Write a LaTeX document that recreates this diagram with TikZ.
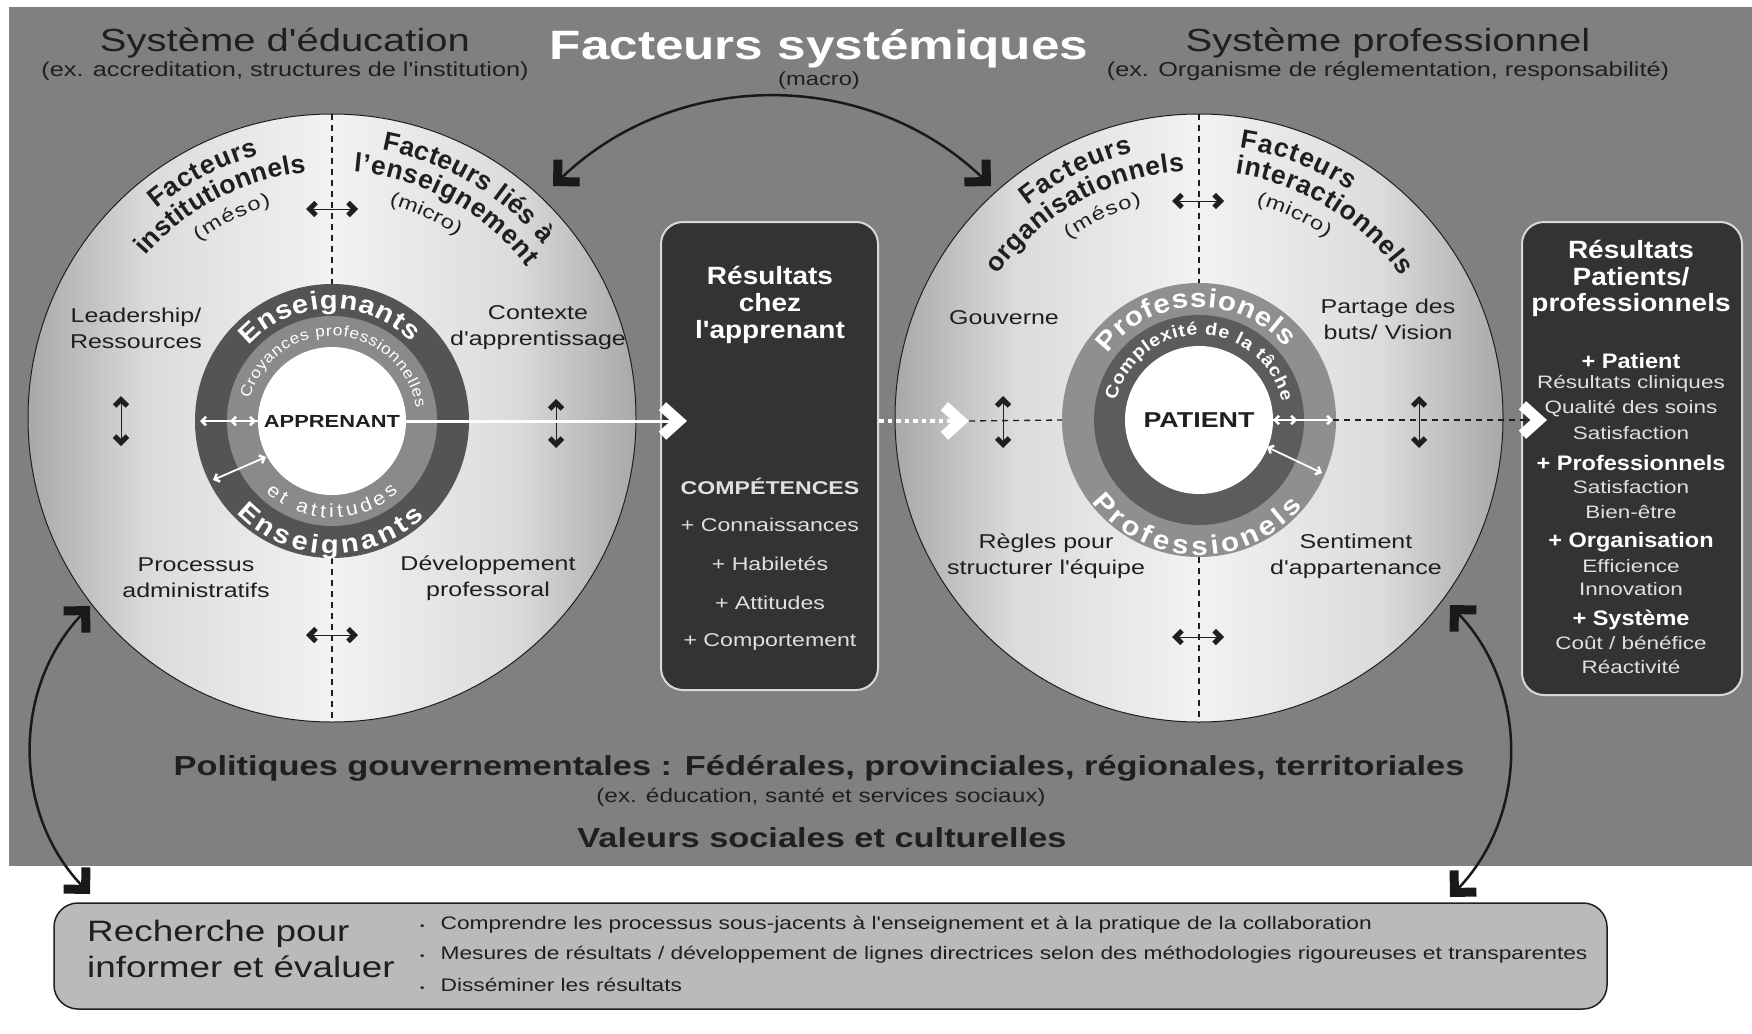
\documentclass[tikz,border=0pt]{standalone}
\usepackage{fontspec}
\setmainfont{Liberation Sans}
\newfontfamily\wsf[FakeStretch=1.25]{Liberation Sans}
\newfontfamily\msf[FakeStretch=1.12]{Liberation Sans}
\usetikzlibrary{arrows.meta,decorations.text}
\newcommand\fz[2]{\fontsize{#1}{#2}\selectfont}
\definecolor{bg}{gray}{0.50}
\definecolor{discA}{gray}{0.95}
\definecolor{discM}{gray}{0.86}
\definecolor{discB}{gray}{0.66}
\definecolor{ringD}{gray}{0.33}
\definecolor{ringM}{gray}{0.54}
\definecolor{ringL}{gray}{0.56}
\definecolor{ringK}{gray}{0.36}
\definecolor{boxD}{gray}{0.20}
\definecolor{boxE}{gray}{0.85}
\definecolor{resB}{gray}{0.73}
\definecolor{ink}{gray}{0.12}
\definecolor{soft}{gray}{0.88}
\pgfdeclarehorizontalshading{hband}{100bp}{color(0bp)=(discB); color(25bp)=(discB); color(35bp)=(discM); color(50bp)=(discA); color(65bp)=(discM); color(75bp)=(discB); color(100bp)=(discB)}
\tikzset{
  bigL/.tip={Straight Barb[angle=90:22pt,line width=9pt,sharp]},
  kbarb/.tip={Straight Barb[angle=90:9pt,line width=5pt,sharp]},
  wbarb/.tip={Straight Barb[angle=90:6pt,line width=2.5pt,color=white]},
  wchev/.tip={Straight Barb[angle=84:22pt,line width=11pt,sharp,color=white]},
  loopar/.style={draw=black!90,line width=2.5pt,bigL-bigL},
  dblk/.style={draw=ink,line width=0.9pt,kbarb-kbarb},
  warr/.style={draw=white,line width=1.8pt},
  dsh/.style={draw=ink,line width=1.3pt,dash pattern=on 6pt off 5pt},
  disc/.style={circle,draw=ink,line width=1pt,shading=hband,minimum size=608pt,inner sep=0pt},
  ring/.style={circle,inner sep=0pt},
  resbox/.style={draw=boxE,line width=2pt,fill=boxD,rounded corners=22pt,inner sep=0pt},
  lbl/.style={font=\wsf\fz{20}{26},text=ink,align=center,inner sep=0pt},
  btt/.style={font=\msf\bfseries\fz{25}{25},text=white,inner sep=0pt},
  bhd/.style={font=\msf\bfseries\fz{21}{21},text=white,inner sep=0pt},
  bit/.style={font=\wsf\fz{18}{18},text=soft,inner sep=0pt},
  mit/.style={font=\wsf\fz{18.5}{18.5},text=soft,inner sep=0pt},
  bul/.style={anchor=west,font=\wsf\fz{18.2}{18.2},text=ink,inner sep=0pt},
}
\newcommand\arcfit[7]{\path[decorate,decoration={text along path,text={|#5|#7},text align={fit to path},text color=#6}] (#1) ++(#2:#4) arc[start angle=#2,end angle=#3,radius=#4];}
\newcommand\bdot{{\fz{10}{10}\textbullet}\hspace{16pt}}
\begin{document}
\begin{tikzpicture}[x=1pt,y=1pt]
\useasboundingbox (0,0) rectangle (1752,-1033);
\fill[white] (0,0) rectangle (1752,-1033);
\fill[bg] (9,-7) rectangle (1752,-866);

% titles
\node[font=\wsf\fz{32}{32},text=ink] (sysedu) at (285,-43) {Système d'éducation};
\node[font=\wsf\fz{20.2}{20.2},text=ink] (sysedux) at (285,-71) {(ex. accreditation, structures de l'institution)};
\node[font=\wsf\fz{32}{32},text=ink] (syspro) at (1388,-43) {Système professionnel};
\node[font=\wsf\fz{20.2}{20.2},text=ink] (sysprox) at (1388,-71) {(ex. Organisme de réglementation, responsabilité)};
\node[font=\wsf\bfseries\fz{41}{41},text=white] (title) at (819,-49) {Facteurs systémiques};
\node[font=\wsf\fz{19}{19},text=ink] (macro) at (819,-81) {(macro)};

% circles
\node[disc] (LC) at (332,-418) {};
\node[disc] (RC) at (1199,-418) {};
\node[ring,fill=ringD,minimum size=274pt] (Lr1) at (332,-421) {};
\node[ring,fill=ringM,minimum size=210pt] (Lr2) at (332,-421) {};
\node[ring,fill=white,minimum size=148pt,font=\wsf\bfseries\fz{17.5}{17.5},text=ink] (app) at (332,-421) {APPRENANT};
\node[ring,fill=ringL,minimum size=274pt] (Rr1) at (1199,-420) {};
\node[ring,fill=ringK,minimum size=210pt] (Rr2) at (1199,-420) {};
\node[ring,fill=white,minimum size=148pt,font=\wsf\bfseries\fz{21.5}{21.5},text=ink] (pat) at (1199,-420) {PATIENT};

\draw[dsh] (LC.north) -- (Lr1.north);
\draw[dsh] (Lr1.south) -- (LC.south);
\draw[dsh] (RC.north) -- (Rr1.north);
\draw[dsh] (Rr1.south) -- (RC.south);

% curved labels, left circle
\arcfit{LC}{130}{105.6}{273}{\bfseries\fz{26.5}{26.5}}{ink}{Facteurs}
\arcfit{LC}{139}{96}{247}{\bfseries\fz{26.5}{26.5}}{ink}{institutionnels}
\arcfit{LC}{127}{106}{221}{\wsf\fz{19}{19}}{ink}{(méso)}
\arcfit{LC}{79.5}{39.5}{273}{\bfseries\fz{26.5}{26.5}}{ink}{Facteurs liés à}
\arcfit{LC}{85}{37.7}{247}{\bfseries\fz{26.5}{26.5}}{ink}{l'enseignement}
\arcfit{LC}{75}{55.5}{221}{\wsf\fz{19}{19}}{ink}{(micro)}
% curved labels, right circle
\arcfit{RC}{129}{104}{273}{\bfseries\fz{26.5}{26.5}}{ink}{Facteurs}
\arcfit{RC}{144.6}{93.4}{247}{\bfseries\fz{26.5}{26.5}}{ink}{organisationnels}
\arcfit{RC}{126}{105}{221}{\wsf\fz{19}{19}}{ink}{(méso)}
\arcfit{RC}{81.5}{56.4}{273}{\bfseries\fz{26.5}{26.5}}{ink}{Facteurs}
\arcfit{RC}{81.6}{35}{247}{\bfseries\fz{26.5}{26.5}}{ink}{interactionnels}
\arcfit{RC}{75}{54.7}{221}{\wsf\fz{19}{19}}{ink}{(micro)}
% ring texts
\arcfit{Lr1}{138}{45}{112}{\msf\bfseries\fz{26}{26}}{white}{Enseignants}
\arcfit{Lr1}{165}{9}{85}{\msf\fz{15.5}{15.5}}{white}{Croyances professionnelles}
\arcfit{Lr1}{227}{313}{97}{\msf\fz{19}{19}}{white}{et attitudes}
\arcfit{Lr1}{224}{314}{133}{\msf\bfseries\fz{26}{26}}{white}{Enseignants}
\arcfit{Rr1}{144}{40}{113}{\msf\bfseries\fz{26.5}{26.5}}{white}{Professionels}
\arcfit{Rr1}{167}{12.5}{85}{\msf\bfseries\fz{17.5}{17.5}}{white}{Complexité de la tâche}
\arcfit{Rr1}{217.6}{320}{135}{\msf\bfseries\fz{26.5}{26.5}}{white}{Professionels}

% circle labels
\node[lbl] (lead) at (136,-328) {Leadership/\\Ressources};
\node[lbl] (ctx) at (538,-328) {Contexte\\d'apprentissage};
\node[lbl] (proc) at (196,-578) {Processus\\administratifs};
\node[lbl] (dev) at (488,-578) {Développement\\professoral};
\node[lbl] (gouv) at (1004,-318) {Gouverne};
\node[lbl] (part) at (1388,-319) {Partage des\\buts/ Vision};
\node[lbl] (regl) at (1046,-556) {Règles pour\\structurer l'équipe};
\node[lbl] (sent) at (1356,-556) {Sentiment\\d'appartenance};

% black double arrows
\draw[dblk] ([shift={(-26,209)}]LC.center) -- ([shift={(26,209)}]LC.center);
\draw[dblk] ([shift={(-26,-217)}]LC.center) -- ([shift={(26,-217)}]LC.center);
\draw[dblk] ([shift={(-211,22)}]LC.center) -- ([shift={(-211,-28)}]LC.center);
\draw[dblk] ([shift={(224,19)}]LC.center) -- ([shift={(224,-30)}]LC.center);
\draw[dblk] ([shift={(-27,217)}]RC.center) -- ([shift={(25,217)}]RC.center);
\draw[dblk] ([shift={(-27,-219)}]RC.center) -- ([shift={(25,-219)}]RC.center);
\draw[dblk] ([shift={(-196,22)}]RC.center) -- ([shift={(-196,-30)}]RC.center);
\draw[dblk] ([shift={(220,22)}]RC.center) -- ([shift={(220,-30)}]RC.center);

% result boxes
\node[resbox,minimum width=217pt,minimum height=468pt] (midbox) at (769.5,-456) {};
\node[resbox,minimum width=220pt,minimum height=473pt] (rbox) at (1632,-458.5) {};
\node[btt] (m1) at (770,-275) {Résultats};
\node[btt] (m2) at (770,-303) {chez};
\node[btt] (m3) at (770,-332) {l'apprenant};
\node[font=\wsf\bfseries\fz{18.5}{18.5},text=soft,inner sep=0pt] (m4) at (770,-486) {COMPÉTENCES};
\node[mit] (m5) at (770,-525) {+ Connaissances};
\node[mit] (m6) at (770,-564) {+ Habiletés};
\node[mit] (m7) at (770,-603) {+ Attitudes};
\node[mit] (m8) at (770,-642) {+ Comportement};

\node[btt] (r1) at (1631,-249) {Résultats};
\node[btt] (r2) at (1631,-277) {Patients/};
\node[btt] (r3) at (1631,-305) {professionnels};
\node[bhd] (r4) at (1631,-361) {+ Patient};
\node[bit] (r5) at (1631,-384) {Résultats cliniques};
\node[bit] (r6) at (1631,-409) {Qualité des soins};
\node[bit] (r7) at (1631,-433) {Satisfaction};
\node[bhd] (r8) at (1631,-463) {+ Professionnels};
\node[bit] (r9) at (1631,-487) {Satisfaction};
\node[bit] (r10) at (1631,-512) {Bien-être};
\node[bhd] (r11) at (1631,-542) {+ Organisation};
\node[bit] (r12) at (1631,-566) {Efficience};
\node[bit] (r13) at (1631,-589) {Innovation};
\node[bhd] (r14) at (1631,-620) {+ Système};
\node[bit] (r15) at (1631,-643) {Coût / bénéfice};
\node[bit] (r16) at (1631,-667) {Réactivité};

% main flow
\coordinate (chevA) at (687,-421);
\coordinate (chevB) at (969,-421);
\coordinate (pwe) at (1333,-420);
\coordinate (chevC) at (1547,-420);
\draw[white,line width=3pt,-wchev] (app.east) -- (chevA);
\draw[white,line width=4.5pt,dash pattern=on 4.5pt off 4pt,-wchev] (midbox.east |- app.east) -- (chevB);
\draw[dsh] (chevB) -- (Rr1.west);
\draw[warr,-wbarb] (pat.east) -- (pwe);
\draw[dsh,-wchev] (pwe) -- (chevC);

% small white arrows
\draw[warr,-wbarb] (app.west) -- ([shift={(-132,0)}]app.center);
\draw[warr,wbarb-wbarb] ([shift={(-102,0)}]app.center) -- ([shift={(-76,0)}]app.center);
\draw[warr,wbarb-wbarb] ([shift={(-119,-59)}]app.center) -- ([shift={(-66,-36)}]app.center);
\draw[warr,wbarb-wbarb] ([shift={(74,0)}]pat.center) -- ([shift={(98,0)}]pat.center);
\draw[warr,wbarb-wbarb] ([shift={(68,-27)}]pat.center) -- ([shift={(123,-53)}]pat.center);

% bottom texts
\node[font=\wsf\bfseries\fz{27.5}{27.5},text=ink] (pol) at (819,-768) {Politiques gouvernementales : Fédérales, provinciales, régionales, territoriales};
\node[font=\wsf\fz{19.5}{19.5},text=ink] (polx) at (821,-797) {(ex. éducation, santé et services sociaux)};
\node[font=\wsf\bfseries\fz{27.5}{27.5},text=ink] (val) at (822,-838) {Valeurs sociales et culturelles};

% research box
\node[draw=ink,line width=1.5pt,fill=resB,rounded corners=24pt,minimum width=1553pt,minimum height=106pt,inner sep=0pt] (rech) at (830.5,-956) {};
\node[anchor=west,font=\wsf\fz{29.5}{29.5},text=ink,inner sep=0pt] (rt1) at (87,-934) {Recherche pour};
\node[anchor=west,font=\wsf\fz{29.5}{29.5},text=ink,inner sep=0pt] (rt2) at (87,-967) {informer et évaluer};
\node[bul] (bl1) at (420,-925) {\bdot Comprendre les processus sous-jacents à l'enseignement et à la pratique de la collaboration};
\node[bul] (bl2) at (420,-955) {\bdot Mesures de résultats / développement de lignes directrices selon des méthodologies rigoureuses et transparentes};
\node[bul] (bl3) at (420,-985) {\bdot Disséminer les résultats};

% curved feedback arrows
\coordinate (tl) at (553,-186);
\coordinate (tr) at (991,-186);
\draw[loopar] (tl) to[out=44,in=136] (tr);
\coordinate (blt) at (90,-606);
\coordinate (blb) at (90,-894);
\draw[loopar] (blt) to[out=226,in=134] (blb);
\coordinate (brt) at (1450,-605);
\coordinate (brb) at (1450,-897);
\draw[loopar] (brt) to[out=-46,in=46] (brb);
\end{tikzpicture}
\end{document}
